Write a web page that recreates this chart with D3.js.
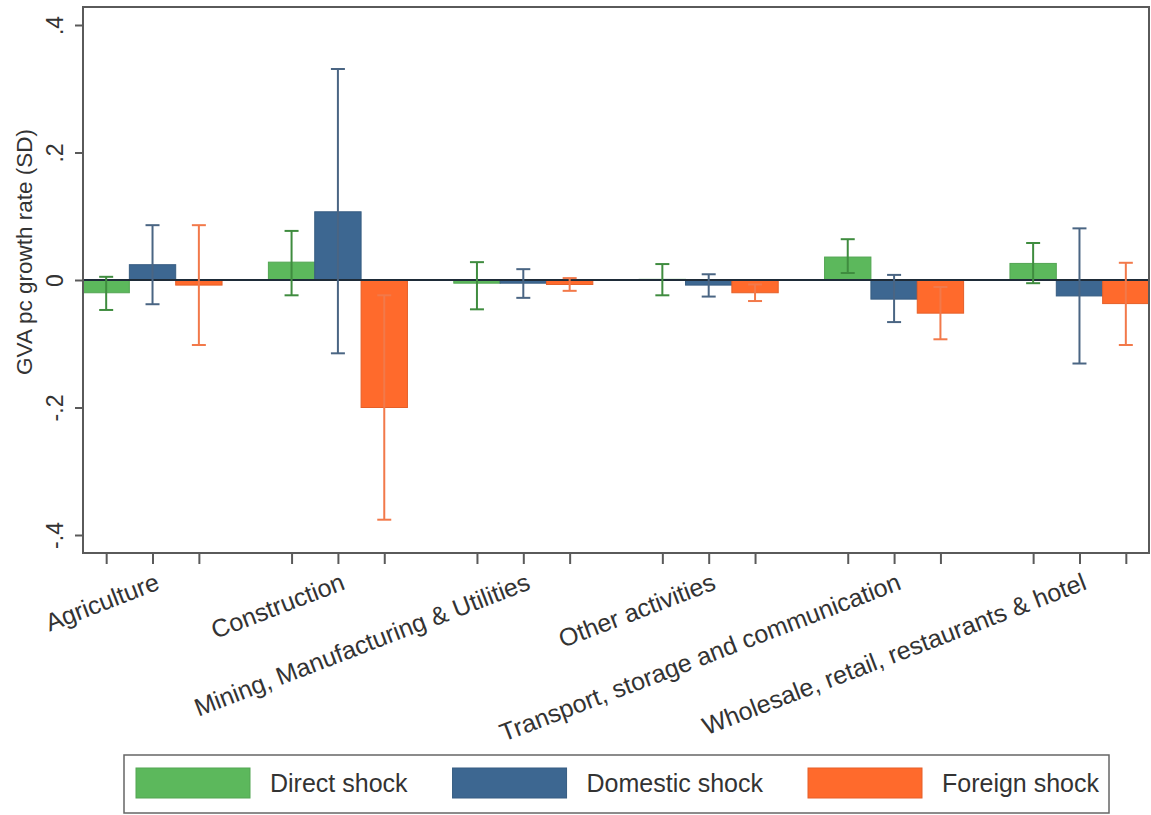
<!DOCTYPE html>
<html>
<head>
<meta charset="utf-8">
<script src="https://cdn.jsdelivr.net/npm/d3@7"></script>
<style>
  html, body { margin: 0; padding: 0; background: #ffffff; }
  svg { display: block; }
  text { font-family: "Liberation Sans", Arial, sans-serif; }
</style>
</head>
<body>
<svg id="chart" width="1151" height="815"></svg>
<script>
// ---- Data ----
const categories = [
  "Agriculture",
  "Construction",
  "Mining, Manufacturing & Utilities",
  "Other activities",
  "Transport, storage and communication",
  "Wholesale, retail, restaurants & hotel"
];
const seriesNames = ["Direct shock", "Domestic shock", "Foreign shock"];

const directMean = [-0.020, 0.028, -0.005, 0.001, 0.036, 0.026];
const directLow  = [-0.047, -0.024, -0.046, -0.024, 0.011, -0.005];
const directHigh = [0.005, 0.077, 0.028, 0.025, 0.064, 0.058];

const domesticMean = [0.024, 0.107, -0.005, -0.008, -0.030, -0.025];
const domesticLow  = [-0.038, -0.115, -0.028, -0.026, -0.066, -0.131];
const domesticHigh = [0.086, 0.331, 0.017, 0.009, 0.008, 0.081];

const foreignMean = [-0.008, -0.200, -0.007, -0.020, -0.052, -0.037];
const foreignLow  = [-0.102, -0.376, -0.017, -0.033, -0.093, -0.102];
const foreignHigh = [0.086, -0.024, 0.003, -0.007, -0.011, 0.027];

const yTickValues = [-0.4, -0.2, 0, 0.2, 0.4];
const yTickLabels = ["-.4", "-.2", "0", ".2", ".4"];
const yTitle = "GVA pc growth rate (SD)";

// ---- Styles ----
const fillColors = ["#5cb85c", "#3d6791", "#ff6a2c"];
const ciColors   = ["#3f8c3f", "#4a6583", "#f2794a"];

const series = [
  {name: seriesNames[0], mean: directMean, lo: directLow, hi: directHigh},
  {name: seriesNames[1], mean: domesticMean, lo: domesticLow, hi: domesticHigh},
  {name: seriesNames[2], mean: foreignMean, lo: foreignLow, hi: foreignHigh}
];

const plot = {left: 83, right: 1149, top: 7, bottom: 553};

const svg = d3.select("#chart");

const x0 = d3.scaleBand().domain(categories).range([plot.left, plot.right])
  .paddingInner(0.25).paddingOuter(0);
const x1 = d3.scaleBand().domain(seriesNames).range([0, x0.bandwidth()]).padding(0);
const y = d3.scaleLinear().domain([-0.4, 0.4]).range([535, 25]);

svg.append("defs").append("clipPath").attr("id", "plotclip")
  .append("rect").attr("x", plot.left).attr("y", plot.top)
  .attr("width", plot.right - plot.left).attr("height", plot.bottom - plot.top);

const gPlot = svg.append("g").attr("clip-path", "url(#plotclip)");

// bars
series.forEach((s, si) => {
  gPlot.append("g").selectAll("rect")
    .data(categories.map((c, i) => ({c, v: s.mean[i]})))
    .join("rect")
    .attr("x", d => x0(d.c) + x1(s.name))
    .attr("width", x1.bandwidth())
    .attr("y", d => y(Math.max(0, d.v)))
    .attr("height", d => Math.abs(y(d.v) - y(0)))
    .attr("fill", fillColors[si])
    .attr("stroke", d3.color(fillColors[si]).darker(0.3))
    .attr("stroke-width", 1);
});

// zero line
gPlot.append("line")
  .attr("x1", plot.left).attr("x2", plot.right)
  .attr("y1", y(0)).attr("y2", y(0))
  .attr("stroke", "#1e2b38").attr("stroke-width", 2);

// CIs
const capHalf = 7;
series.forEach((s, si) => {
  const g = gPlot.append("g").attr("stroke", ciColors[si]).attr("stroke-width", 2).attr("fill", "none");
  categories.forEach((c, i) => {
    const cx = x0(c) + x1(s.name) + x1.bandwidth() / 2;
    g.append("line").attr("x1", cx).attr("x2", cx).attr("y1", y(s.lo[i])).attr("y2", y(s.hi[i]));
    g.append("line").attr("x1", cx - capHalf).attr("x2", cx + capHalf).attr("y1", y(s.lo[i])).attr("y2", y(s.lo[i]));
    g.append("line").attr("x1", cx - capHalf).attr("x2", cx + capHalf).attr("y1", y(s.hi[i])).attr("y2", y(s.hi[i]));
  });
});

// frame
svg.append("rect")
  .attr("x", plot.left).attr("y", plot.top)
  .attr("width", plot.right - plot.left).attr("height", plot.bottom - plot.top)
  .attr("fill", "none").attr("stroke", "#5a5a5a").attr("stroke-width", 2);

// y axis
const yAxis = d3.axisLeft(y).tickValues(yTickValues)
  .tickFormat((d, i) => yTickLabels[i]).tickSize(8).tickPadding(0);
const gy = svg.append("g").attr("transform", `translate(${plot.left},0)`).call(yAxis);
gy.select(".domain").remove();
gy.selectAll(".tick line").attr("stroke", "#5a5a5a").attr("stroke-width", 2);
gy.selectAll(".tick text")
  .attr("x", null).attr("dy", null)
  .attr("text-anchor", "middle")
  .attr("transform", "translate(-20,0) rotate(-90)")
  .attr("font-size", 23).attr("fill", "#333")
  .attr("font-family", "Liberation Sans, Arial, sans-serif");

// y title
svg.append("text")
  .attr("transform", "translate(32,252) rotate(-90)")
  .attr("text-anchor", "middle")
  .attr("font-size", 22.5).attr("fill", "#333")
  .text(yTitle);

// x axis ticks (one per bar)
const barCenters = [];
categories.forEach(c => seriesNames.forEach(s => barCenters.push(x0(c) + x1(s) + x1.bandwidth() / 2)));
const xTickScale = d3.scaleIdentity().domain([plot.left, plot.right]);
const xAxis = d3.axisBottom(xTickScale).tickValues(barCenters).tickFormat("").tickSize(11);
const gx = svg.append("g").attr("transform", `translate(0,${plot.bottom})`).call(xAxis);
gx.select(".domain").remove();
gx.selectAll(".tick line").attr("stroke", "#5a5a5a").attr("stroke-width", 2);

// x labels
svg.append("g").selectAll("text")
  .data(categories)
  .join("text")
  .attr("transform", d => `translate(${x0(d) + x1(seriesNames[1]) + x1.bandwidth() / 2 + 2},572) rotate(-21)`)
  .attr("text-anchor", "end")
  .attr("dy", "0.72em")
  .attr("font-size", 25).attr("fill", "#333")
  .text(d => d);

// legend
const legend = svg.append("g");
legend.append("rect")
  .attr("x", 124).attr("y", 755).attr("width", 985).attr("height", 58)
  .attr("fill", "#fff").attr("stroke", "#666").attr("stroke-width", 1.5);
let lx = 136;
seriesNames.forEach((name, i) => {
  legend.append("rect")
    .attr("x", lx).attr("y", 768).attr("width", 114).attr("height", 30)
    .attr("fill", fillColors[i]).attr("stroke", d3.color(fillColors[i]).darker(0.3)).attr("stroke-width", 1);
  const t = legend.append("text")
    .attr("x", lx + 134).attr("y", 792)
    .attr("font-size", 25).attr("fill", "#333")
    .text(name);
  lx = lx + 134 + t.node().getComputedTextLength() + 45;
});
</script>
</body>
</html>
